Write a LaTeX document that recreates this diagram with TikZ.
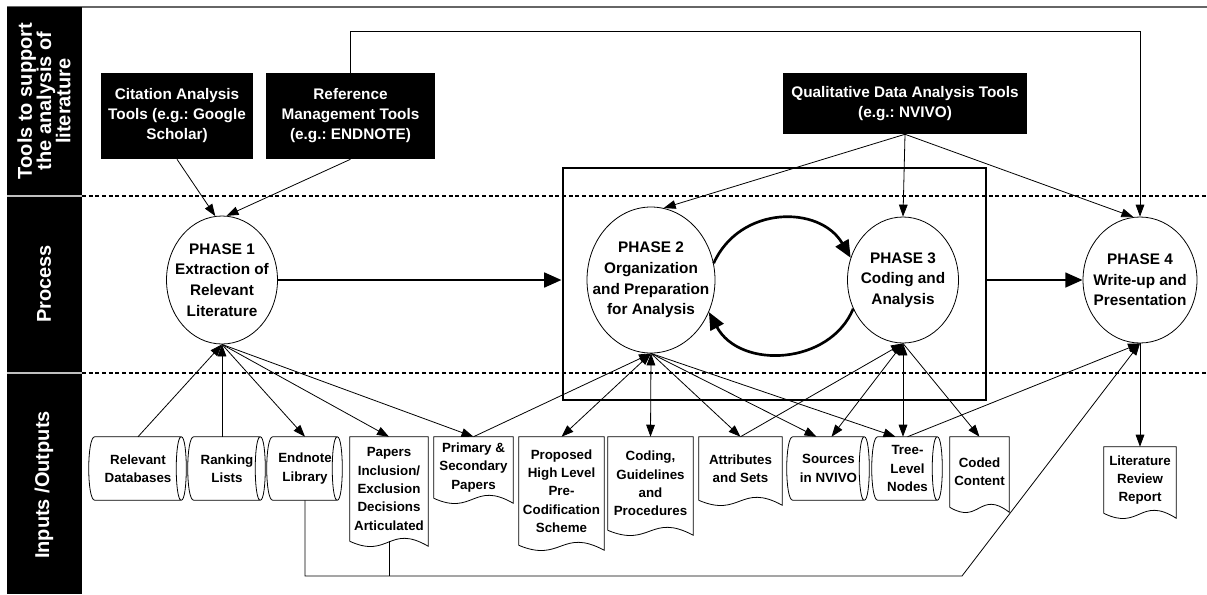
\documentclass[tikz,border=0pt]{standalone}
\usepackage{fontspec}
\setmainfont{Liberation Sans}
\usetikzlibrary{shapes.geometric,arrows.meta,calc}
\frenchspacing
\newcommand\cylshape[1]{%
  \draw[line width=0.6pt] (#1.north west) -- (#1.north east)
    (#1.south west) -- (#1.south east)
    (#1.north west) .. controls ($(#1.north west)+(-8,0)$) and ($(#1.south west)+(-8,0)$) .. (#1.south west)
    (#1.north east) .. controls ($(#1.north east)+(-6.7,0)$) and ($(#1.south east)+(-6.7,0)$) .. (#1.south east)
    .. controls ($(#1.south east)+(6.7,0)$) and ($(#1.north east)+(6.7,0)$) .. (#1.north east);}
\newcommand\docshape[1]{%
  \draw[line width=0.6pt] (#1.south west) -- (#1.north west) -- (#1.north east) -- ($(#1.south east)+(0,5)$)
    .. controls ($(#1.south)+(0,-18)$) and ($(#1.south)+(0,18)$) .. (#1.south west);}
\tikzset{
  sz/.style 2 args={minimum width=#1*0.75pt, minimum height=#2*0.75pt},
  phase/.style={ellipse, draw, line width=0.6pt, inner sep=0pt},
  phasetext/.style={inner sep=0pt, align=center, font=\fontsize{11.5}{15.5}\selectfont\bfseries},
  tool/.style={rectangle, fill=black, text=white, inner sep=0pt, align=center, font=\fontsize{11.5}{15}\selectfont\bfseries},
  doc/.style={rectangle, inner sep=0pt, align=center, font=\fontsize{10}{13.7}\selectfont\bfseries},
  lane/.style={rotate=90, text=white, inner sep=0pt, align=center, font=\fontsize{15}{14.5}\selectfont\bfseries},
  tip/.style={Triangle[length=9pt,width=6.5pt]},
  arr/.style={line width=0.6pt, -{Triangle[length=9pt,width=6.5pt]}},
  arrboth/.style={line width=0.6pt, {Triangle[length=9pt,width=6.5pt]}-{Triangle[length=9pt,width=6.5pt]}},
  arrthick/.style={line width=2pt, -{Triangle[length=13pt,width=11pt]}},
  sep/.style={line width=0.8pt, dash pattern=on 3pt off 2pt},
}
\begin{document}
\begin{tikzpicture}[x=0.75pt, y=-0.75pt]
\useasboundingbox (0,0) rectangle (1207,594);
% frame and lanes
\draw[black!60, line width=1.2pt] (7,7) -- (1207,7);
\fill[black] (7,7) rectangle (82,594);
\draw[black!25, line width=1.5pt] (7,196) -- (82,196) (7,373) -- (82,373);
\draw[sep] (82,196) -- (1207,196);
\draw[sep] (82,373) -- (1207,373);
\node[lane] (lane1) at (44,101) {Tools to support\\the analysis of\\literature};
\node[lane] (lane2) at (44,284) {Process};
\node[lane] (lane3) at (44,485) {Inputs /Outputs};
% tools
\node[tool, sz={152}{86}] (cit) at (177,116) {Citation Analysis\\Tools (e.g.: Google\\Scholar)};
\node[tool, sz={169}{86}] (ref) at (350.5,116) {Reference\\Management Tools\\(e.g.: ENDNOTE)};
\node[tool, sz={244}{61}] (qual) at (905,103.5) {Qualitative Data Analysis Tools\\(e.g.: NVIVO)};
% group box
\node[draw, line width=2.2pt, sz={423}{232}, inner sep=0pt] (grp) at (774.5,284) {};
% phases
\node[phase, sz={111}{128}] (p1) at (222,280) {};
\node[phasetext] (p1t) at (p1) {PHASE 1\\Extraction of\\Relevant\\Literature};
\node[phase, sz={128}{146}, fill=white] (p2) at (651,280) {};
\node[phasetext] (p2t) at (p2) {PHASE 2\\Organization\\and Preparation\\for Analysis};
\node[phase, sz={111}{126}] (p3) at (903,280) {};
\node[phasetext] (p3t) at (p3) {PHASE 3\\Coding and\\Analysis};
\node[phase, sz={114}{126}] (p4) at (1140,280) {};
\node[phasetext] (p4t) at (p4) {PHASE 4\\Write-up and\\Presentation};
% storage shapes
\node[doc, sz={86}{63}] (db) at (138,468.5) {Relevant\\Databases};
\node[doc, sz={66}{63}] (rank) at (227,468.5) {Ranking\\Lists};
\node[doc, sz={64}{63}] (endn) at (305,468.5) {Endnote\\Library};
\node[doc, sz={71}{63}] (src) at (828.5,468.5) {Sources\\in NVIVO};
\node[doc, sz={59}{63}] (tree) at (907.5,468.5) {Tree-\\Level\\Nodes};
\cylshape{db}\cylshape{rank}\cylshape{endn}\cylshape{src}\cylshape{tree}
% documents
\node[doc, sz={78}{104}] (pap) at (389,489) {Papers\\Inclusion/\\Exclusion\\Decisions\\Articulated};
\node[doc, sz={79}{61}] (prim) at (473.5,467.5) {Primary \&\\Secondary\\Papers};
\node[doc, sz={85}{108}] (prop) at (561.5,491) {Proposed\\High Level\\Pre-\\Codification\\Scheme};
\node[doc, sz={85}{93}] (cod) at (650.5,483.5) {Coding,\\Guidelines\\and\\Procedures};
\node[doc, sz={83}{63}] (attr) at (740.5,468.5) {Attributes\\and Sets};
\node[doc, sz={59}{70}] (coded) at (979.5,472) {Coded\\Content};
\node[doc, sz={72}{66}] (lrr) at (1140,480) {Literature\\Review\\Report};
\docshape{pap}\docshape{prim}\docshape{prop}\docshape{cod}\docshape{attr}\docshape{coded}\docshape{lrr}
% tool connectors
\draw[arr] (cit.south) -- (p1.96);
\draw[arr] (ref.south) -- (p1.86);
\draw[arr] (ref.north) -- ($(ref.north)+(0,-41)$) -| (p4.north);
\draw[arr] (qual.south) -- (p2.80);
\draw[arr] (qual.south) -- (p3.north);
\draw[arr] (qual.south) -- (p4.96);
% main flow
\draw[arrthick] (p1.east) -- (p1.east -| grp.west);
\draw[arrthick] (grp.east |- p4.west) -- (p4.west);
\draw[arrthick] (p2.15) .. controls (740,205) and (820,205) .. (p3.157);
\draw[arrthick] (p3.210) .. controls (830,365) and (740,370) .. (p2.331);
% phase 1 inputs/outputs
\draw[arr] (db.north) -- (p1.south);
\draw[arr] (p1.south |- rank.north) -- (p1.south);
\draw[arr] (p1.south) -- (endn.north);
\draw[arr] (p1.south) -- (pap.north);
\draw[arr] (p1.south) -- (prim.north);
% phase 2
\draw[arr] (prim.north) -- (p2.south);
\draw[arrboth] (p2.south) -- (prop.north);
\draw[arrboth] (p2.south) -- (cod.north);
\draw[arr] (p2.south) -- (attr.north);
\draw[arr] (p2.south) -- ($(src.north)+(-12,0)$);
\draw[arr] (p2.south) -- ($(tree.north)+(-12,0)$);
% phase 3
\draw[arr] (attr.north) -- (p3.south);
\draw[arrboth] (p3.south) -- ($(src.north)+(3,0)$);
\draw[arrboth] (p3.south) -- (p3.south |- tree.north);
\draw[arr] (p3.south) -- (coded.north);
% phase 4
\draw[arr] (tree.north) -- (p4.south);
\draw[arr] (p4.south) -- (lrr.north);
\coordinate (ret) at (962,576);
\draw[arr] (endn.south) |- (ret) -- (p4.south);
\draw[line width=0.6pt] (pap.south) -- (pap.south |- ret);
\end{tikzpicture}
\end{document}
